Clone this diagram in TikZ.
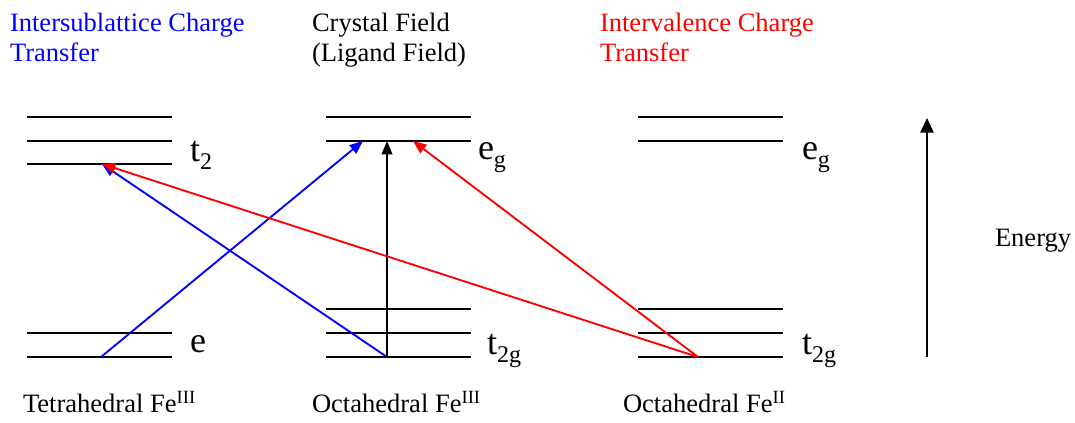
\documentclass[tikz,border=0pt]{standalone}
\usepackage{fontspec}
\setmainfont{Liberation Serif}
\usepackage{xcolor}
\usepackage{tikz}
\usetikzlibrary{arrows.meta}
\definecolor{isctblue}{HTML}{0000FF}
\definecolor{ivctred}{HTML}{FF0000}
\newcommand{\lvsub}[1]{\raisebox{-6pt}{\fontsize{18}{18}\selectfont #1}}
\newcommand{\oxst}[1]{\raisebox{7pt}{\fontsize{14}{14}\selectfont #1}}

\begin{document}
\begin{tikzpicture}[x=0.75pt, y=-0.75pt,
  every node/.style={inner sep=0pt, outer sep=0pt, font=\fontsize{19.9}{22.5}\selectfont},
  heading/.style={anchor=base west, align=left},
  site/.style={anchor=base west},
  orbital/.style={anchor=base west, font=\fontsize{27}{27}\selectfont},
  level/.style={line width=1.8pt},
  xfer/.style={-{Triangle[length=10pt,width=8pt]}, line width=1.4pt},
  axis/.style={-{Triangle[length=11pt,width=10pt]}, line width=1.3pt}
]
  \useasboundingbox (0,0) rectangle (1075,423);

  % headings
  \node[heading, text=isctblue] (isct) at (10,62) {Intersublattice Charge\\Transfer};
  \node[heading] (cf) at (312,62) {Crystal Field\\(Ligand Field)};
  \node[heading, text=ivctred] (ivct) at (600,62) {Intervalence Charge\\Transfer};

  % tetrahedral Fe(III)
  \draw[level] (27,117) -- (172,117);
  \draw[level] (27,141) -- (172,141);
  \draw[level] (27,164) -- (172,164);
  \draw[level] (27,333) -- (172,333);
  \draw[level] (27,357) -- (172,357);
  \node[orbital] (tett) at (190,162) {t\lvsub{2}};
  \node[orbital] (tete) at (190,353) {e};
  \node[site] (tet) at (23,413) {Tetrahedral Fe\oxst{III}};

  % octahedral Fe(III)
  \draw[level] (326,117) -- (471,117);
  \draw[level] (326,141) -- (471,141);
  \draw[level] (326,309) -- (471,309);
  \draw[level] (326,333) -- (471,333);
  \draw[level] (326,357) -- (471,357);
  \node[orbital] (octeg) at (478,160) {e\lvsub{g}};
  \node[orbital] (octt) at (487,355) {t\lvsub{2g}};
  \node[site] (oct) at (312,413) {Octahedral Fe\oxst{III}};

  % octahedral Fe(II)
  \draw[level] (638,117) -- (783,117);
  \draw[level] (638,141) -- (783,141);
  \draw[level] (638,309) -- (783,309);
  \draw[level] (638,333) -- (783,333);
  \draw[level] (638,357) -- (783,357);
  \node[orbital] (feeg) at (802,160) {e\lvsub{g}};
  \node[orbital] (fet) at (802,355) {t\lvsub{2g}};
  \node[site] (fe) at (623,413) {Octahedral Fe\oxst{II}};

  % transfer end points
  \coordinate (tetlo) at (101,357);
  \coordinate (tethi) at (102,164);
  \coordinate (octlo) at (387,357);
  \coordinate (octhi) at (387,141);
  \coordinate (octhib) at (363,141);
  \coordinate (octhir) at (413,141);
  \coordinate (felo) at (698,357);

  \draw[xfer, isctblue] (tetlo) -- (octhib);
  \draw[xfer, isctblue] (octlo) -- (tethi);
  \draw[xfer] (octlo) -- (octhi);
  \draw[xfer, ivctred] (felo) -- (octhir);
  \draw[xfer, ivctred] (felo) -- (tethi);

  % energy axis
  \coordinate (elo) at (927,357);
  \coordinate (ehi) at (927,118);
  \draw[axis] (elo) -- (ehi);
  \node[site] (energy) at (995,247) {Energy};
\end{tikzpicture}
\end{document}
